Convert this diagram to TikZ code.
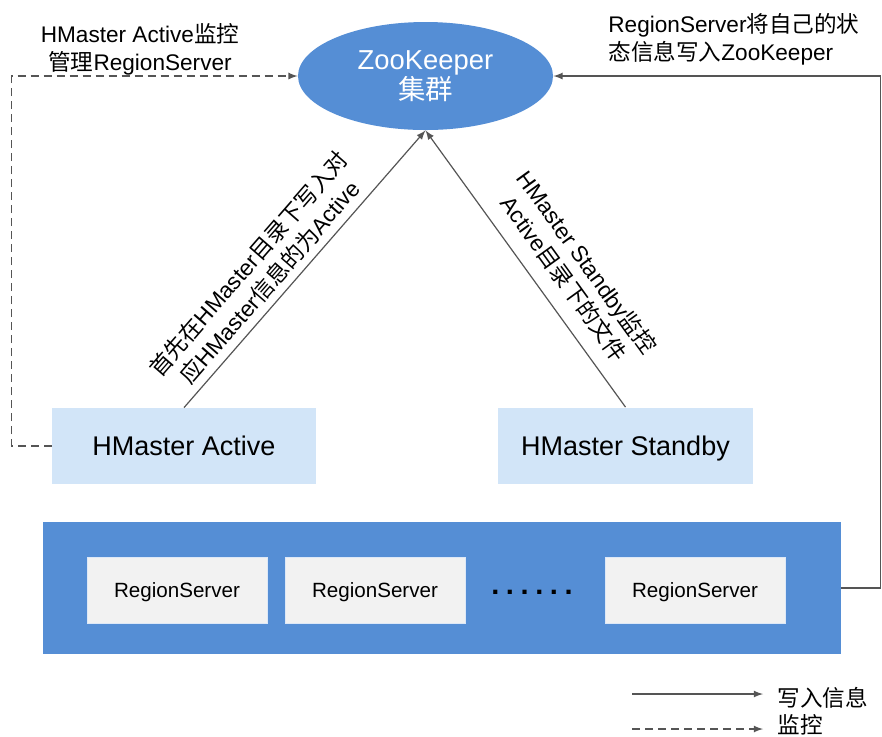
\documentclass[tikz,border=0pt]{standalone}
\usepackage{fontspec}
\setmainfont{Liberation Sans}
\newfontfamily\cjk{Noto Sans CJK SC}
\usetikzlibrary{arrows.meta,shapes.geometric}
\definecolor{zkblue}{HTML}{558ED5}
\definecolor{hmblue}{HTML}{D2E5F8}
\definecolor{rsgray}{HTML}{F2F2F2}
\definecolor{linegray}{HTML}{555555}

\begin{document}
\begin{tikzpicture}[x=0.5pt,y=-0.5pt,>=latex,
  line/.style={draw=linegray,line width=0.6pt},
  master/.style={fill=hmblue,minimum height=38pt,text height=9.7pt,text depth=0pt,font=\fontsize{13.5}{16}\selectfont},
  region/.style={fill=rsgray,draw=white!80!zkblue,line width=0.4pt,minimum width=90pt,minimum height=33pt,text height=7.4pt,text depth=0pt,font=\fontsize{10.3}{12}\selectfont},
  note/.style={font=\fontsize{11.3}{14}\selectfont,align=center}]
  \useasboundingbox (0,0) rectangle (882,736);
  \node[ellipse,fill=zkblue,text=white,minimum width=127.5pt,minimum height=54pt,inner sep=0pt,align=center,font=\fontsize{13.7}{16.5}\selectfont] (zk) at (425.5,76) {\raisebox{-1.5pt}{ZooKeeper}\\{\cjk 集群}};
  \node[master,minimum width=132pt] (ha) at (184,446) {HMaster Active};
  \node[master,minimum width=127.5pt] (hs) at (625.5,445.5) {HMaster Standby};
  \node[fill=zkblue,minimum width=399pt,minimum height=66pt] (rs) at (442,588) {};
  \node[region] (r1) at (177,590) {RegionServer};
  \node[region] (r2) at (375,590) {RegionServer};
  \node[font=\fontsize{14.5}{16}\bfseries] (dots) at (532,592) {.\hspace{3.3pt}.\hspace{3.3pt}.\hspace{3.3pt}.\hspace{3.3pt}.\hspace{3.3pt}.};
  \node[region] (r3) at (695,590) {RegionServer};
  % labels above the top connectors
  \node[note,inner sep=0pt] (la) at (140,49) {HMaster Active{\cjk 监控}\\{\cjk 管理}RegionServer};
  \node[note,inner sep=0pt,align=left,anchor=west] (lb) at (608,39) {RegionServer{\cjk 将自己的状}\\{\cjk 态信息写入}ZooKeeper};
  % connectors
  \draw[line,dashed,dash pattern=on 4pt off 2.5pt,->] (ha.west) -- ++(-40,0) |- (zk.west);
  \draw[line,->] (rs.east) -- ++(39,0) |- (zk.east);
  \draw[line,->] (ha.north) -- node[note,pos=0.41,above,sloped] {{\cjk 首先在}HMaster{\cjk 目录下写入对}\\{\cjk 应}HMaster{\cjk 信息的为}Active} (zk.south);
  \draw[line,->] (hs.north) -- node[note,pos=0.41,above,sloped,yshift=4pt] {HMaster Standby{\cjk 监控}\\Active{\cjk 目录下的文件}} (zk.south);
  % legend
  \coordinate (s1) at (632,694);
  \coordinate (s2) at (632,729);
  \node[note,anchor=west,inner sep=0pt] (t1) at (777,698) {\cjk 写入信息};
  \node[note,anchor=west,inner sep=0pt] (t2) at (777,725) {\cjk 监控};
  \draw[line,->] (s1) -- (s1 -| 763,0);
  \draw[line,dashed,dash pattern=on 4pt off 2.5pt,->] (s2) -- (s2 -| 763,0);
\end{tikzpicture}
\end{document}
